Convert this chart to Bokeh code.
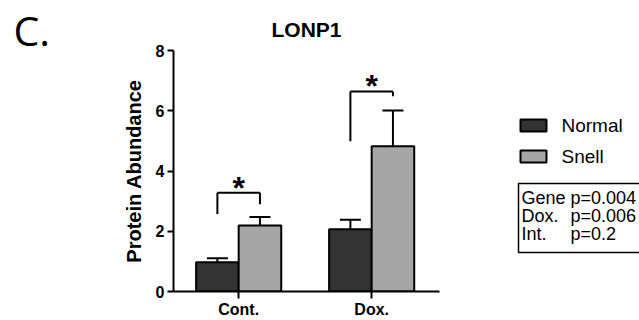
import numpy as np
from bokeh.plotting import figure
from bokeh.layouts import row
from bokeh.models import Range1d, FixedTicker
from bokeh.core.properties import value
from bokeh.embed import file_html
from bokeh.resources import INLINE

# ---- data ----
categories = ["Cont.", "Dox."]
series = ["Normal", "Snell"]
normal_mean = [0.97, 2.07]
normal_err = [0.13, 0.31]
snell_mean = [2.19, 4.82]
snell_err = [0.28, 1.19]
y_ticks = [0, 2, 4, 6, 8]
# significance brackets (one per category)
bracket_top = [3.28, 6.64]
bracket_left_bottom = [2.57, 4.99]
bracket_right_bottom = [2.90, 6.48]
sig_marks = ["*", "*"]
# stats box
stat_names = ["Gene", "Dox.", "Int."]
stat_pvals = ["p=0.004", "p=0.006", "p=0.2"]

colors = ["#333333", "#a6a6a6"]
FONT = "Liberation Sans"
H = 320

pos = np.arange(1, len(categories) + 1, dtype=float)
off = 0.16
bw = 0.32


def blank(width):
    f = figure(width=width, height=H, output_backend="svg", toolbar_location=None,
               x_range=Range1d(0, width), y_range=Range1d(H, 0),
               x_axis_type=None, y_axis_type=None, frame_align=False,
               min_border_left=0, min_border_right=0, min_border_top=0, min_border_bottom=0)
    f.outline_line_color = None
    f.xgrid.visible = False
    f.ygrid.visible = False
    return f


# panel letter
c = blank(60)
c.text(x=[13], y=[43], text=["C."], text_font=value("Open Sans"), text_font_size="41px",
       text_baseline="alphabetic", y_offset=-14, text_color="black")

# main chart
p = figure(width=428, height=H, output_backend="svg", toolbar_location=None,
           x_range=Range1d(0.51, 2.51), y_range=Range1d(0, 8), frame_align=False,
           min_border_left=113, min_border_right=49, min_border_top=50, min_border_bottom=0)
p.outline_line_color = None
p.xgrid.visible = False
p.ygrid.visible = False
p.title.text = "LONP1"
p.title.align = "center"
p.title.text_font = FONT
p.title.text_font_style = "bold"
p.title.text_font_size = "21px"
p.title.text_color = "black"
p.title.standoff = 20

for i, (means, errs) in enumerate([(normal_mean, normal_err), (snell_mean, snell_err)]):
    xs = pos + (-off if i == 0 else off)
    m = np.array(means)
    e = np.array(errs)
    p.segment(x0=xs, y0=m, x1=xs, y1=m + e, line_color="black", line_width=2)
    p.segment(x0=xs - 0.079, y0=m + e, x1=xs + 0.079, y1=m + e, line_color="black", line_width=2)
    p.vbar(x=xs, top=m, width=bw, bottom=0, fill_color=colors[i], line_color="black", line_width=2)

bl = pos - off
br = pos + off
bt = np.array(bracket_top)
p.segment(x0=bl, y0=bracket_left_bottom, x1=bl, y1=bt, line_color="black", line_width=2)
p.segment(x0=br, y0=bracket_right_bottom, x1=br, y1=bt, line_color="black", line_width=2)
p.segment(x0=bl, y0=bt, x1=br, y1=bt, line_color="black", line_width=2)
p.text(x=pos, y=bt, text=sig_marks, text_align="center", text_baseline="alphabetic",
       y_offset=-5, text_font=value(FONT), text_font_style="bold", text_font_size="32px",
       text_color="black")

p.xaxis.ticker = FixedTicker(ticks=list(pos))
p.xaxis.major_label_overrides = {float(v): c_ for v, c_ in zip(pos, categories)}
p.yaxis.ticker = FixedTicker(ticks=y_ticks)
for ax in [p.xaxis[0], p.yaxis[0]]:
    ax.axis_line_width = 2
    ax.axis_line_color = "black"
    ax.major_tick_line_width = 2
    ax.major_tick_line_color = "black"
    ax.major_tick_in = 0
    ax.minor_tick_line_color = None
    ax.major_label_text_font = FONT
    ax.major_label_text_font_style = "bold"
    ax.major_label_text_color = "black"
p.xaxis.major_tick_out = 7
p.xaxis.major_label_text_font_size = "16px"
p.xaxis.major_label_standoff = 2
p.yaxis.major_tick_out = 6
p.yaxis.major_label_text_font_size = "16px"
p.yaxis.major_label_standoff = 3
p.yaxis.axis_label = "Protein Abundance"
p.yaxis.axis_label_text_font = FONT
p.yaxis.axis_label_text_font_style = "bold"
p.yaxis.axis_label_text_font_size = "20px"
p.yaxis.axis_label_standoff = 8
p.yaxis.axis_label_text_color = "black"

# side panel: legend + stats box
s = blank(151)
leg_top = 119
leg_step = 31
idx = np.arange(len(series))
s.quad(left=32, right=58, top=leg_top + idx * leg_step, bottom=leg_top + 12 + idx * leg_step,
       fill_color=colors, line_color="black", line_width=2)
s.text(x=73, y=leg_top + 12 + idx * leg_step, text=series, text_font=value(FONT),
       text_font_size="19px", text_baseline="alphabetic", y_offset=-6, text_color="black")

s.quad(left=30, right=170, top=183, bottom=252, fill_color=None, line_color="black", line_width=1.5)
sidx = np.arange(len(stat_names))
s.text(x=33, y=203.5 + sidx * 18, text=stat_names, text_font=value(FONT),
       text_font_size="18px", text_baseline="alphabetic", y_offset=-6, text_color="black")
s.text(x=82, y=203.5 + sidx * 18, text=stat_pvals, text_font=value(FONT),
       text_font_size="18px", text_baseline="alphabetic", y_offset=-6, text_color="black")

layout = row(c, p, s)
open("out.html", "w").write(file_html(layout, INLINE))
